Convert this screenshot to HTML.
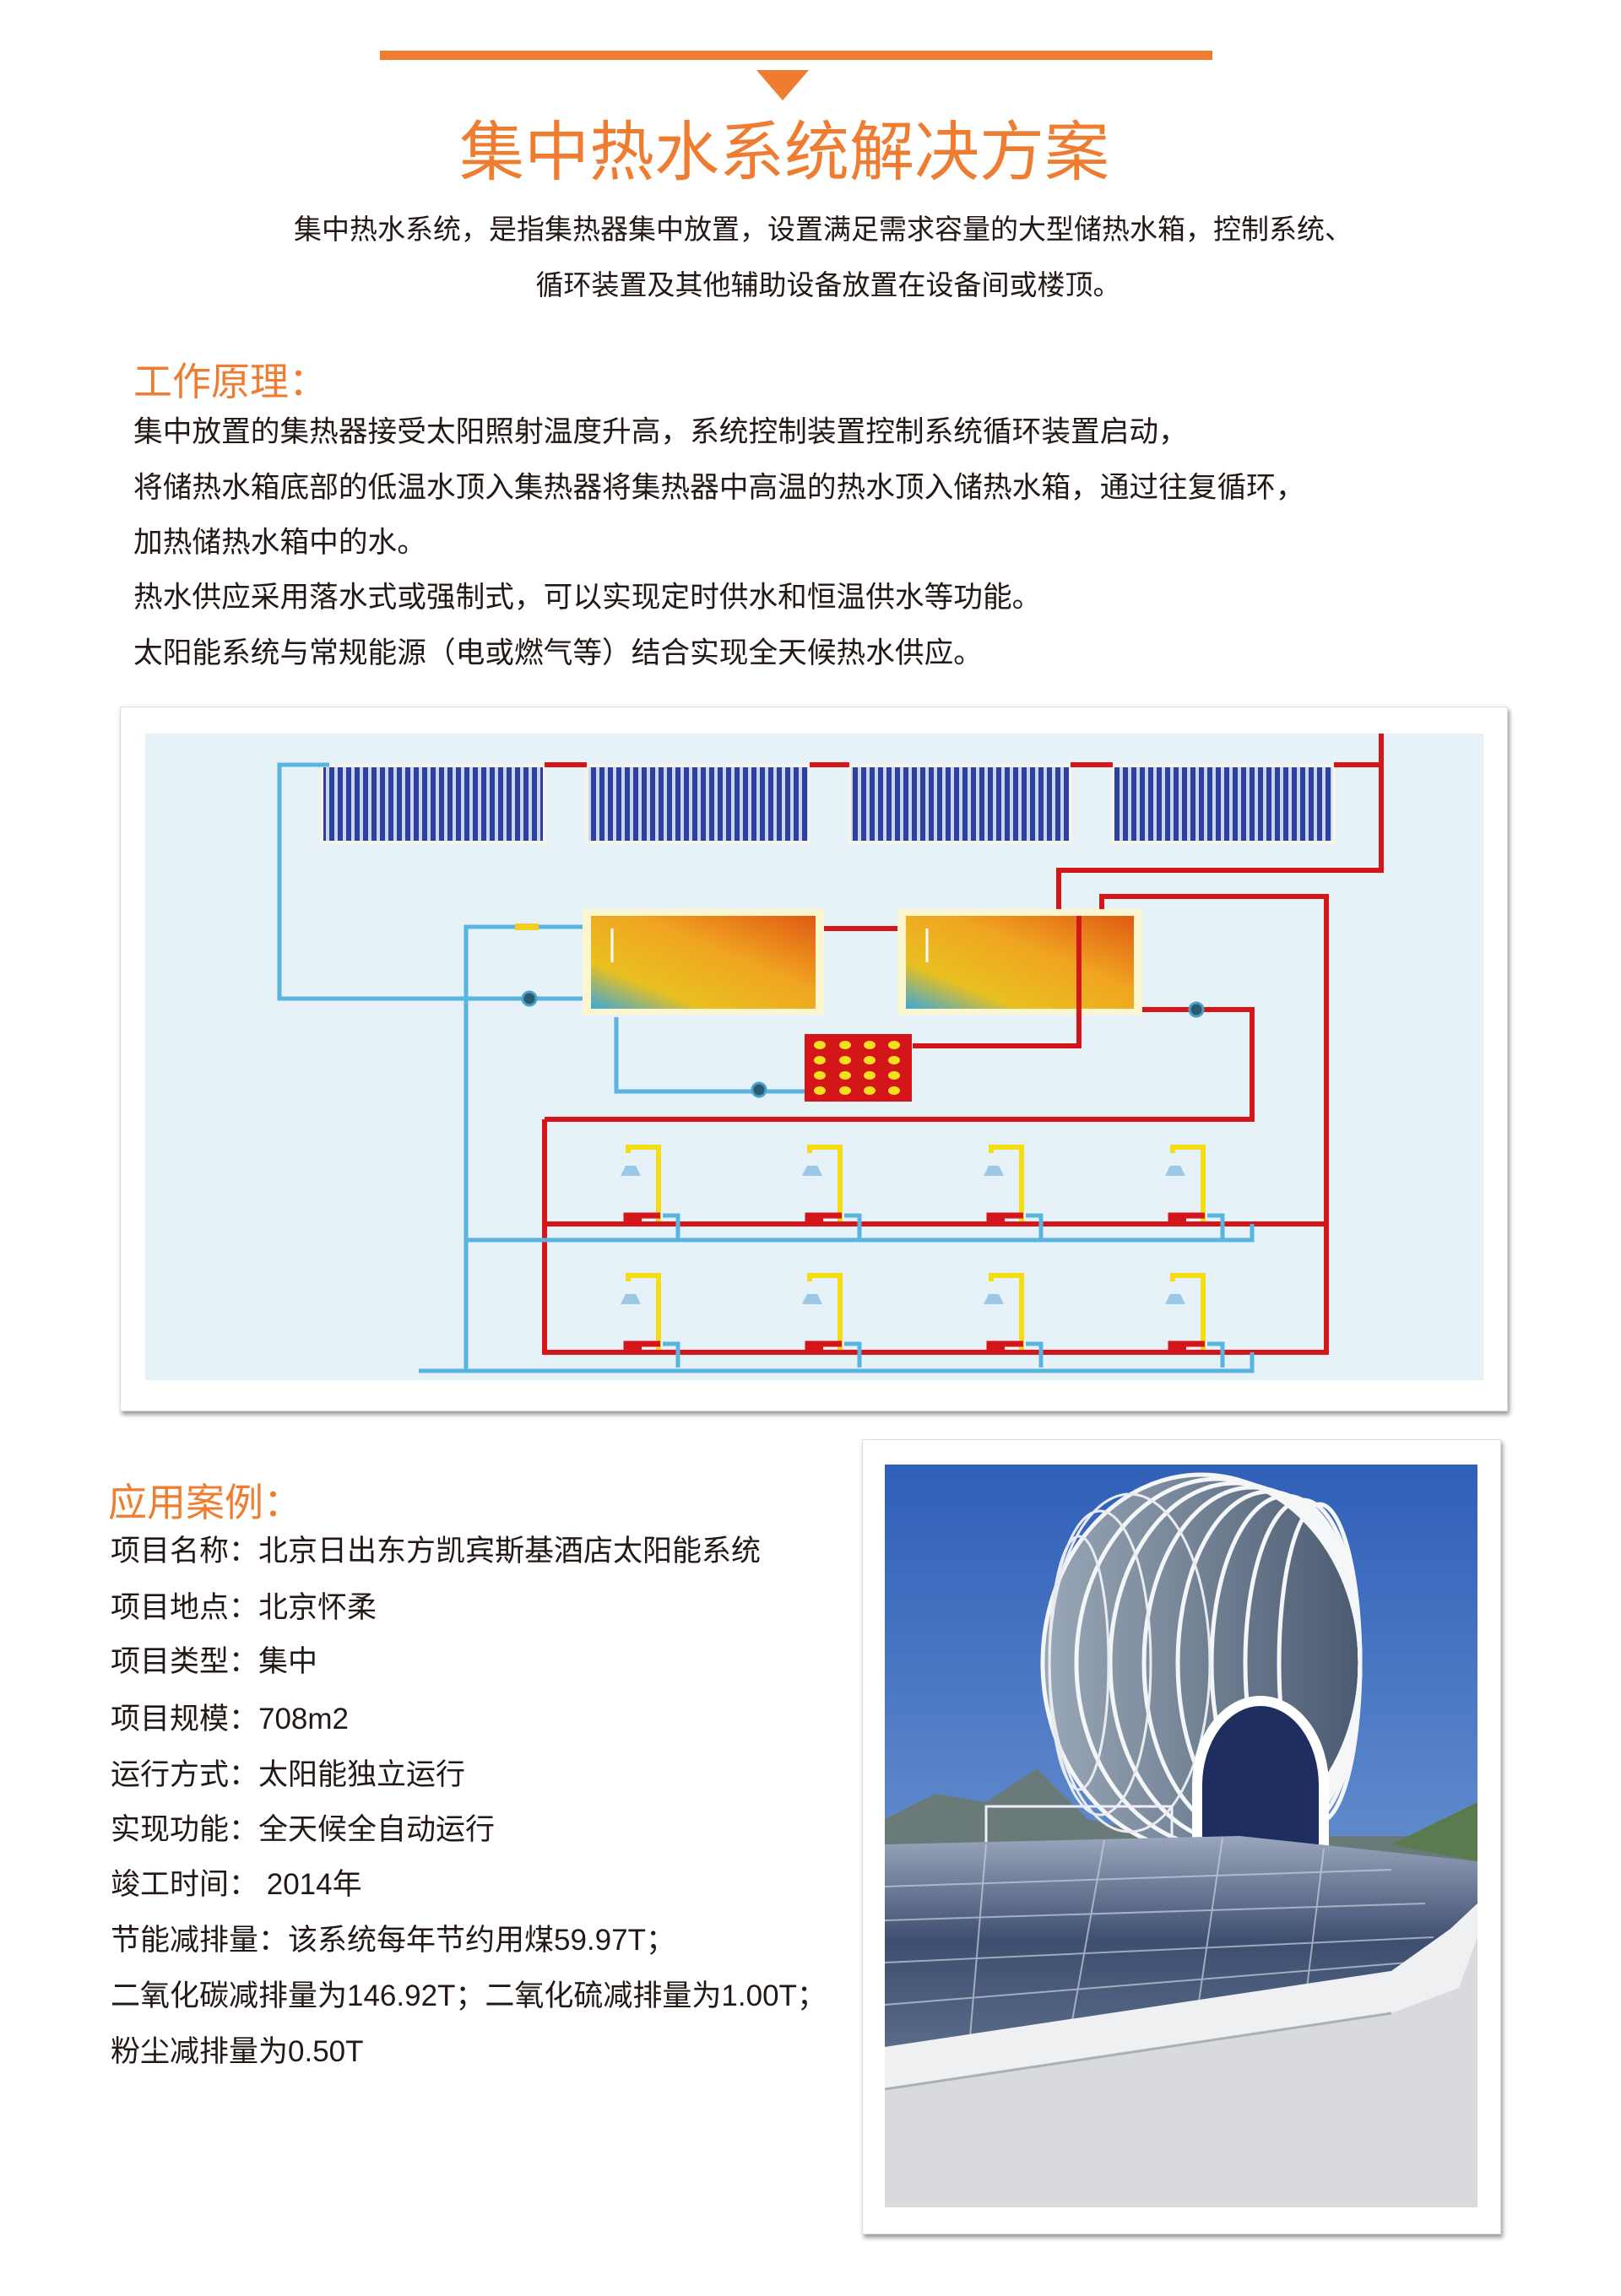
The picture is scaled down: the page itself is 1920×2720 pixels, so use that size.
<!DOCTYPE html>
<html><head><meta charset="utf-8"><style>
*{margin:0;padding:0;box-sizing:border-box}
body{width:1920px;height:2720px;background:#fff;position:relative;overflow:hidden;font-family:"Liberation Sans","Noto Sans CJK SC",sans-serif;color:#231815}
.a{position:absolute;white-space:nowrap}
.t{font-size:34.7px;line-height:40px}
.c{font-size:35px;line-height:40px;left:131px}
.o{color:#ee7d31}
</style></head><body>
<div class="a" style="left:450px;top:60px;width:986px;height:11px;background:#ee7d31"></div>
<div class="a" style="left:896px;top:83px;width:0;height:0;border-left:31px solid transparent;border-right:31px solid transparent;border-top:36px solid #ee7d31"></div>
<div class="a o" style="left:0;width:1858px;text-align:center;top:136px;font-size:77px;line-height:90px">集中热水系统解决方案</div>
<div class="a" style="left:0;width:1950px;text-align:center;top:252px;font-size:33px;line-height:40px">集中热水系统，是指集热器集中放置，设置满足需求容量的大型储热水箱，控制系统、</div>
<div class="a" style="left:0;width:1962px;text-align:center;top:318px;font-size:33px;line-height:40px">循环装置及其他辅助设备放置在设备间或楼顶。</div>
<div class="a o" style="left:158px;top:424px;font-size:46px;line-height:56px">工作原理：</div>
<div class="a t" style="left:158px;top:492px">集中放置的集热器接受太阳照射温度升高，系统控制装置控制系统循环装置启动，</div>
<div class="a t" style="left:158px;top:558px">将储热水箱底部的低温水顶入集热器将集热器中高温的热水顶入储热水箱，通过往复循环，</div>
<div class="a t" style="left:158px;top:623px">加热储热水箱中的水。</div>
<div class="a t" style="left:158px;top:688px">热水供应采用落水式或强制式，可以实现定时供水和恒温供水等功能。</div>
<div class="a t" style="left:158px;top:754px">太阳能系统与常规能源（电或燃气等）结合实现全天候热水供应。</div>

<div class="a" style="left:142px;top:837px;width:1644px;height:835px;background:#fff;border:1px solid #ddd;box-shadow:2px 4px 5px #999"></div>
<svg class="a" style="left:0;top:0" width="1920" height="1700" viewBox="0 0 1920 1700">
<defs>
<linearGradient id="tg" x1="0" y1="1" x2="1" y2="0">
<stop offset="0" stop-color="#3aa8d8"/><stop offset="0.25" stop-color="#e9c020"/><stop offset="0.6" stop-color="#f0a420"/><stop offset="1" stop-color="#e05a14"/></linearGradient>
<pattern id="tube" width="10" height="10" patternUnits="userSpaceOnUse"><rect width="10" height="10" fill="#c8d6f0"/><rect width="6" height="10" fill="#2e3f9c"/></pattern>
</defs>
<rect x="172" y="869" width="1585" height="766" fill="#e6f2f8"/>
<g fill="url(#tube)" stroke="#f4f4ea" stroke-width="4">
<rect x="381" y="907" width="264" height="91"/><rect x="695" y="907" width="264" height="91"/><rect x="1006" y="907" width="262" height="91"/><rect x="1318" y="907" width="262" height="91"/></g>
<g fill="none" stroke="#d4161b" stroke-width="6">
<path d="M645 906H695M959 906H1006M1268 906H1318M1580 906H1636V869M1636 906V1031H1254V1078"/>
<path d="M976 1100H1068"/>
<path d="M1305 1078V1062H1571V1602H645V1326"/>
<path d="M1353 1196H1483V1326H645"/>
<path d="M1081 1239H1278V1100"/>
<path d="M645 1450H1571"/>
</g>
<g fill="none" stroke="#5ab4e0" stroke-width="5">
<path d="M390 906H331V1183H690"/>
<path d="M690 1098H552V1624"/>
<path d="M730 1205V1293H953"/>
<path d="M552 1469H1483V1450"/>
<path d="M496 1624H1483V1602"/>
</g>
<rect x="690" y="1077" width="286" height="125" fill="#fbf5d0"/>
<rect x="700" y="1085" width="266" height="110" fill="url(#tg)"/>
<rect x="1063" y="1077" width="290" height="125" fill="#fbf5d0"/>
<rect x="1073" y="1085" width="270" height="110" fill="url(#tg)"/>
<path d="M1278 1085V1239" stroke="#d4161b" stroke-width="6"/>
<g stroke="#fff" stroke-width="3"><path d="M725 1100V1140M1098 1100V1140"/></g>
<rect x="953" y="1225" width="127" height="80" fill="#d4161b"/>
<g fill="#f5e020">
<ellipse cx="971" cy="1238" rx="7" ry="5"/><ellipse cx="1001" cy="1238" rx="7" ry="5"/><ellipse cx="1030" cy="1238" rx="7" ry="5"/><ellipse cx="1059" cy="1238" rx="7" ry="5"/>
<ellipse cx="971" cy="1256" rx="7" ry="5"/><ellipse cx="1001" cy="1256" rx="7" ry="5"/><ellipse cx="1030" cy="1256" rx="7" ry="5"/><ellipse cx="1059" cy="1256" rx="7" ry="5"/>
<ellipse cx="971" cy="1274" rx="7" ry="5"/><ellipse cx="1001" cy="1274" rx="7" ry="5"/><ellipse cx="1030" cy="1274" rx="7" ry="5"/><ellipse cx="1059" cy="1274" rx="7" ry="5"/>
<ellipse cx="971" cy="1292" rx="7" ry="5"/><ellipse cx="1001" cy="1292" rx="7" ry="5"/><ellipse cx="1030" cy="1292" rx="7" ry="5"/><ellipse cx="1059" cy="1292" rx="7" ry="5"/></g>
<g fill="#2a5a70" stroke="#4aa0c8" stroke-width="3"><circle cx="627" cy="1183" r="8"/><circle cx="899" cy="1291" r="8"/><circle cx="1417" cy="1196" r="8"/></g>
<rect x="610" y="1094" width="28" height="8" fill="#f0d020"/>
<g id="sh">
<path d="M744 1366V1359H780V1447" fill="none" stroke="#f5de10" stroke-width="6"/>
<path d="M735 1393l6-12h12l6 12z" fill="#9cc8e8"/>
<path d="M760 1446h-18v-6h40" fill="none" stroke="#d4161b" stroke-width="7"/>
<path d="M785 1440h18v28" fill="none" stroke="#5ab4e0" stroke-width="5"/>
</g>
<use href="#sh" x="215"/><use href="#sh" x="430"/><use href="#sh" x="645"/>
<use href="#sh" y="152"/><use href="#sh" x="215" y="152"/><use href="#sh" x="430" y="152"/><use href="#sh" x="645" y="152"/>
</svg>

<div class="a o" style="left:128px;top:1752px;font-size:46px;line-height:56px">应用案例：</div>
<div class="a c" style="top:1818px">项目名称：北京日出东方凯宾斯基酒店太阳能系统</div>
<div class="a c" style="top:1885px">项目地点：北京怀柔</div>
<div class="a c" style="top:1949px">项目类型：集中</div>
<div class="a c" style="top:2017px">项目规模：708m2</div>
<div class="a c" style="top:2083px">运行方式：太阳能独立运行</div>
<div class="a c" style="top:2148px">实现功能：全天候全自动运行</div>
<div class="a c" style="top:2213px">竣工时间： 2014年</div>
<div class="a c" style="top:2279px">节能减排量：该系统每年节约用煤59.97T；</div>
<div class="a c" style="top:2345px">二氧化碳减排量为146.92T；二氧化硫减排量为1.00T；</div>
<div class="a c" style="top:2411px">粉尘减排量为0.50T</div>

<div class="a" style="left:1021px;top:1705px;width:757px;height:942px;background:#fff;border:1px solid #ddd;box-shadow:2px 4px 5px #999"></div>
<svg class="a" style="left:1048px;top:1735px" width="702" height="880" viewBox="0 0 702 880">
<defs>
<linearGradient id="sky" x1="0" y1="0" x2="0" y2="1"><stop offset="0" stop-color="#2f5fb8"/><stop offset="1" stop-color="#8fb4e0"/></linearGradient>
<linearGradient id="gl" x1="0" y1="0" x2="0" y2="1"><stop offset="0" stop-color="#9aa6bc"/><stop offset="0.5" stop-color="#3e4e70"/><stop offset="1" stop-color="#5a6a88"/></linearGradient>
<linearGradient id="dm" x1="0" y1="0" x2="1" y2="0"><stop offset="0" stop-color="#9aa8b8"/><stop offset="1" stop-color="#4a5a70"/></linearGradient>
</defs>
<rect width="702" height="880" fill="url(#sky)"/>
<path d="M0 420L60 390 120 400 180 360 240 420 330 440 702 440 702 470 0 470z" fill="#6a7a78"/>
<path d="M600 450L702 400 702 470z" fill="#5a7a50"/>
<ellipse cx="375" cy="235" rx="190" ry="225" fill="url(#dm)"/>
<g fill="none" stroke="#f4f6f8" stroke-width="5">
<ellipse cx="375" cy="235" rx="188" ry="223"/>
<ellipse cx="395" cy="235" rx="168" ry="218"/>
<ellipse cx="415" cy="235" rx="148" ry="213"/>
<ellipse cx="435" cy="235" rx="128" ry="208"/>
<ellipse cx="455" cy="235" rx="108" ry="203"/>
<ellipse cx="475" cy="235" rx="88" ry="198"/>
<ellipse cx="495" cy="235" rx="68" ry="193"/>
<ellipse cx="515" cy="235" rx="48" ry="188"/>
</g>
<g fill="none" stroke="#e8ecf0" stroke-width="3">
<ellipse cx="290" cy="235" rx="95" ry="200"/><ellipse cx="255" cy="235" rx="60" ry="180"/><ellipse cx="230" cy="235" rx="35" ry="150"/></g>
<path d="M370 460v-80a75 100 0 0 1 150 0v80z" fill="#1e2e5e" stroke="#fff" stroke-width="12"/>
<rect x="120" y="405" width="220" height="50" fill="none" stroke="#eef" stroke-width="3"/>
<path d="M0 450L420 440 702 470 702 520 650 570 600 600 0 690z" fill="url(#gl)"/>
<g stroke="#c8d0dc" stroke-width="2" fill="none" opacity="0.7">
<path d="M0 500L600 480M0 540L640 520M0 590L650 560M0 640L620 590"/>
<path d="M120 450L100 690M260 445L220 670M400 442L370 650M520 455L500 620"/></g>
<path d="M0 690L600 600 670 550 702 520 702 880 0 880z" fill="#d8dade"/>
<path d="M0 690L600 600 670 550 702 520 702 560 680 620 600 650 0 740z" fill="#eef0f2"/>
<path d="M0 740L600 650" stroke="#aab0b8" stroke-width="3"/>
</svg>
</body></html>
